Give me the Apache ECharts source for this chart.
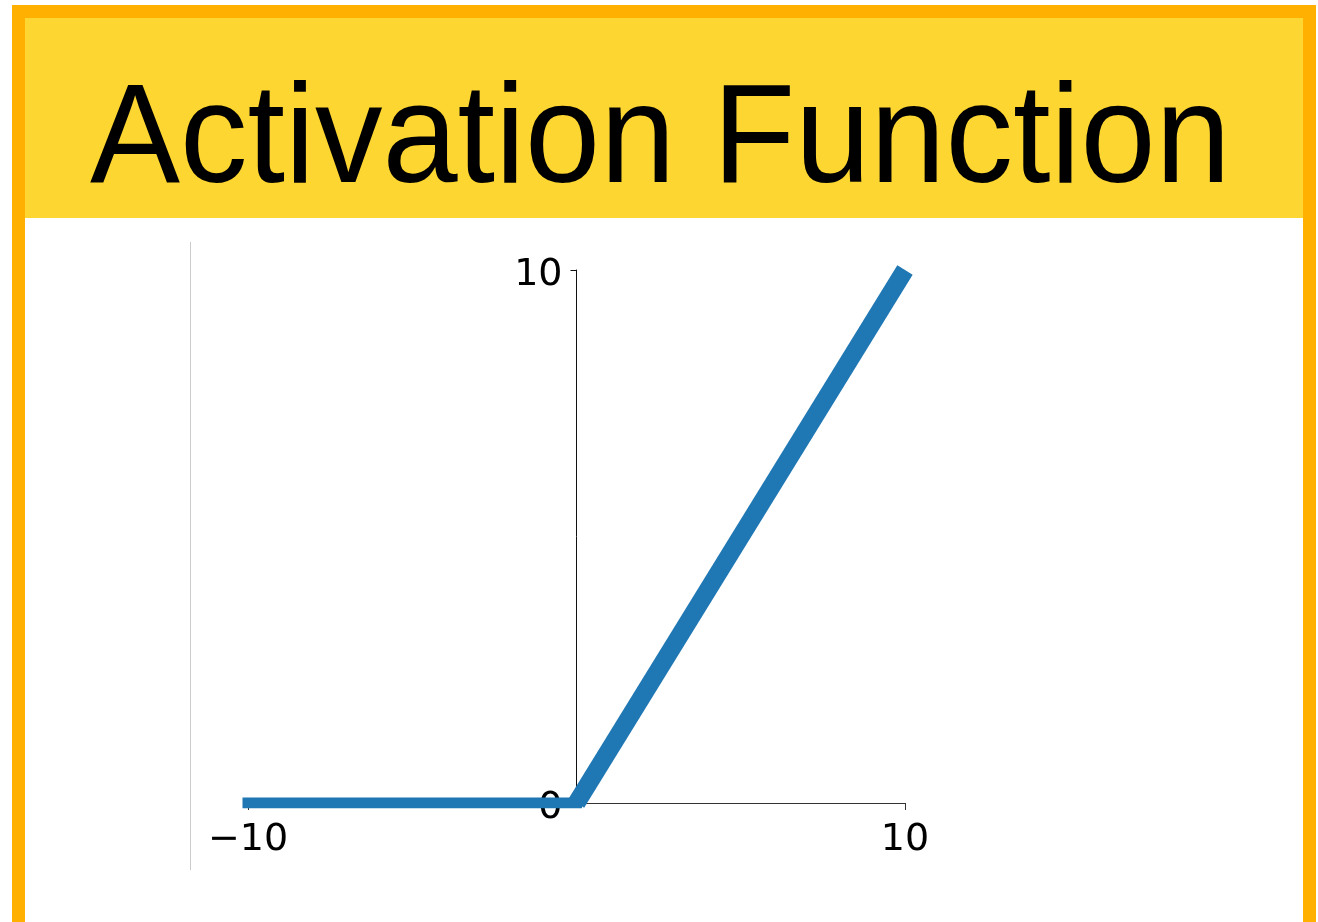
<!DOCTYPE html>
<html>
<head>
<meta charset="utf-8">
<title>Activation Function</title>
<script src="https://cdn.jsdelivr.net/npm/echarts@6/dist/echarts.min.js"></script>
<style>
  html, body { margin: 0; padding: 0; background: #ffffff; }
  #chart { width: 1318px; height: 922px; }
</style>
</head>
<body>
<div id="chart"></div>
<script>
// ReLU: f(x) = max(0, x), sampled at its break points
const xValues = [-10, 0, 10];
const yValues = [0, 0, 10];
const xTickValues = [-10, 10];
const yTickValues = [0, 10];
const titleText = 'Activation Function';

const points = xValues.map((x, i) => [x, yValues[i]]);
// flat half and rising half of the curve, drawn as two strokes
const flatPart = points.filter(p => p[0] <= 0);
const risingPart = points.filter(p => p[0] >= 0);

const chart = echarts.init(document.getElementById('chart'), null, { renderer: 'canvas' });

const tickFont = { fontFamily: 'DejaVu Sans', fontSize: 38, color: '#000' };

// plot box
const gridLeft = 248, gridRight = 413, gridTop = 270, gridBottom = 119;
const plotWidth = 1318 - gridLeft - gridRight;
const xMin = -10, xMax = 10;
// shift the y axis from the left edge of the plot to x = 0
const yAxisOffset = -plotWidth * (0 - xMin) / (xMax - xMin);

chart.setOption({
  animation: false,
  backgroundColor: '#ffffff',
  graphic: [
    // orange frame
    { type: 'rect', z: -10, shape: { x: 12, y: 5, width: 1304, height: 930 }, style: { fill: '#FFB000' } },
    { type: 'rect', z: -9, shape: { x: 25, y: 18, width: 1278, height: 920 }, style: { fill: '#ffffff' } },
    // yellow banner
    { type: 'rect', z: -8, shape: { x: 25, y: 18, width: 1278, height: 200 }, style: { fill: '#FED631' } },
    {
      type: 'text', z: 5,
      x: 90, y: 143, scaleY: 1.045,
      style: {
        x: 0, y: 0, text: titleText,
        font: '135px "Liberation Sans", Arial, sans-serif',
        fill: '#000', verticalAlign: 'middle', align: 'left'
      }
    },
    // thin separator line at the left of the plot
    { type: 'line', z: -5, shape: { x1: 190.5, y1: 242, x2: 190.5, y2: 870 }, style: { stroke: '#cccccc', lineWidth: 1 } }
  ],
  grid: { left: gridLeft, right: gridRight, top: gridTop, bottom: gridBottom, containLabel: false },
  xAxis: {
    type: 'value', min: xMin, max: xMax,
    splitLine: { show: false },
    axisLine: { onZero: false, lineStyle: { color: '#333', width: 1 } },
    axisTick: { show: true, length: 7, customValues: xTickValues, lineStyle: { color: '#333' } },
    axisLabel: {
      customValues: xTickValues, margin: 18, ...tickFont,
      formatter: v => (v < 0 ? '\u2212' + Math.abs(v) : String(v))
    }
  },
  yAxis: {
    type: 'value', min: 0, max: 10,
    position: 'left',
    offset: yAxisOffset,
    splitLine: { show: false },
    axisLine: { onZero: false, lineStyle: { color: '#111', width: 1 } },
    axisTick: { show: true, length: 6, customValues: yTickValues, lineStyle: { color: '#111' } },
    axisLabel: {
      customValues: yTickValues, margin: 14, ...tickFont,
      formatter: v => '{t|' + v + '}',
      rich: { t: { ...tickFont, padding: [10, 0, 0, 0] } }
    }
  },
  series: [
    {
      name: 'ReLU x<=0',
      type: 'line',
      data: flatPart,
      symbol: 'none',
      clip: true,
      lineStyle: { color: '#1f77b4', width: 11, cap: 'square' },
      z: 3
    },
    {
      name: 'ReLU x>=0',
      type: 'line',
      data: risingPart,
      symbol: 'none',
      clip: true,
      lineStyle: { color: '#1f77b4', width: 18, cap: 'butt' },
      z: 3
    }
  ]
});
</script>
</body>
</html>
